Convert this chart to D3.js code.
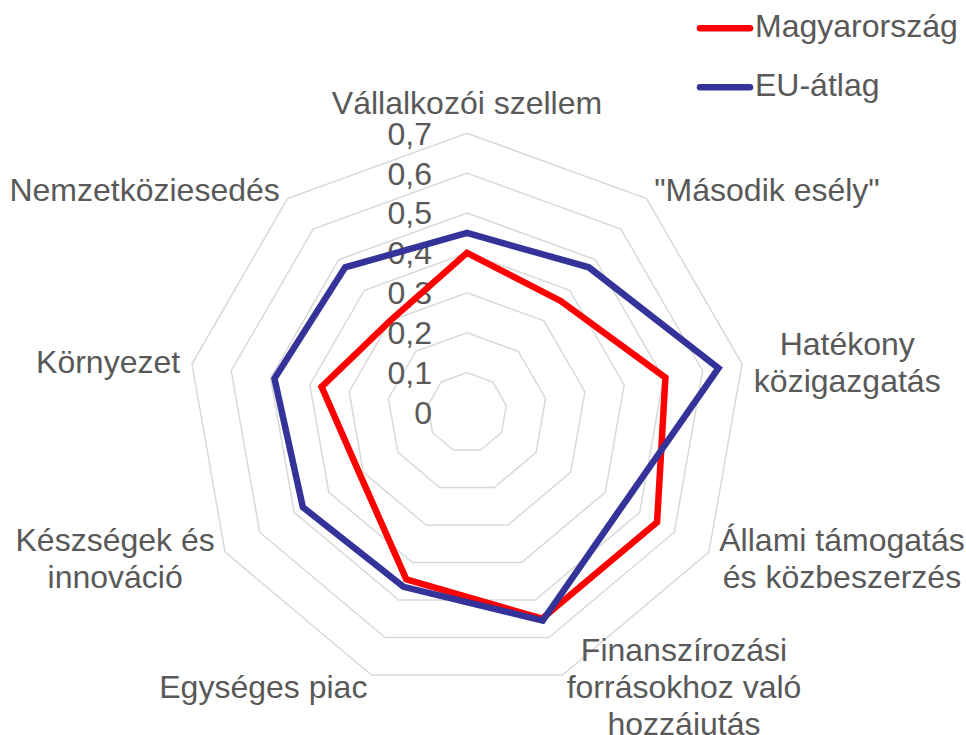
<!DOCTYPE html>
<html lang="hu">
<head>
<meta charset="UTF-8">
<title>Magyarország és az EU-átlag</title>
<script src="https://d3js.org/d3.v7.min.js"></script>
<style>
  body { margin: 0; background: #fff; }
  svg text { font-family: "Liberation Sans", Arial, sans-serif; fill: #595959; }
</style>
</head>
<body>
<svg width="966" height="735"></svg>
<script>
// categories clockwise from the top
const categories = [
  "Vállalkozói szellem",
  "\"Második esély\"",
  "Hatékony\nközigazgatás",
  "Állami támogatás\nés közbeszerzés",
  "Finanszírozási\nforrásokhoz való\nhozzájutás",
  "Egységes piac",
  "Készségek és\ninnováció",
  "Környezet",
  "Nemzetköziesedés"
];
const hungary = [0.40, 0.365, 0.505, 0.55, 0.55, 0.445, 0.31, 0.37, 0.30];
const euAverage = [0.45, 0.475, 0.64, 0.455, 0.555, 0.465, 0.475, 0.49, 0.475];
const tickValues = [0, 0.1, 0.2, 0.3, 0.4, 0.5, 0.6, 0.7];
const seriesNames = ["Magyarország", "EU-átlag"];

const colors = ["#ff0000", "#333399"];
const cx = 467, cy = 412.5, R = 279.3;
const fontSize = 32, tickSize = 32, lineH = 37, gap = 12;

const svg = d3.select("svg");
const hu = d3.formatLocale({decimal: ",", thousands: " ", grouping: [3], currency: ["", " Ft"]});
const fmt = hu.format("");

const r = d3.scaleLinear().domain([0, 0.7]).range([0, R]);
const angle = d3.scalePoint().domain(d3.range(categories.length + 1)).range([0, 2 * Math.PI]);

const g = svg.append("g").attr("transform", `translate(${cx},${cy})`);

// grid rings
const ring = d3.lineRadial()
  .angle((d, i) => angle(i))
  .radius(d => r(d))
  .curve(d3.curveLinearClosed);

g.selectAll(".ring")
  .data(tickValues.filter(t => t > 0))
  .enter()
  .append("path")
  .attr("class", "ring")
  .attr("d", t => ring(categories.map(() => t)))
  .attr("fill", "none")
  .attr("stroke", "#d9d9d9")
  .attr("stroke-width", 1.5);

// tick labels on the top axis
g.selectAll(".tick")
  .data(tickValues)
  .enter()
  .append("text")
  .attr("class", "tick")
  .attr("x", -35)
  .attr("y", d => -r(d) + 0.358 * tickSize)
  .attr("text-anchor", "end")
  .style("font-size", tickSize + "px")
  .text(d => fmt(d));

// series
const series = [hungary, euAverage];
g.selectAll(".series")
  .data(series)
  .enter()
  .append("path")
  .attr("class", "series")
  .attr("d", d => ring(d))
  .attr("fill", "none")
  .attr("stroke", (d, i) => colors[i])
  .attr("stroke-width", 6.5)
  .attr("stroke-linejoin", "miter");

// category labels
categories.forEach((label, i) => {
  const a = angle(i);
  const sx = Math.sin(a), sy = -Math.cos(a);
  const ax = (R + gap) * sx, ay = (R + gap) * sy;
  const lines = label.split("\n");
  const t = g.append("text").style("font-size", fontSize + "px").attr("text-anchor", "middle");
  const spans = lines.map(l => t.append("tspan").text(l));
  const w = d3.max(spans, s => s.node().getComputedTextLength());
  let mid;
  if (sx > 0.1) mid = ax + w / 2;
  else if (sx < -0.1) mid = ax - w / 2;
  else mid = ax;
  let y0;
  if (sy < -0.9) y0 = ay - 0.212 * fontSize - (lines.length - 1) * lineH;
  else y0 = ay - (lines.length - 1) * lineH / 2 + 0.358 * fontSize;
  spans.forEach((s, k) => s.attr("x", mid).attr("y", y0 + k * lineH));
});

// legend
const legend = svg.append("g").selectAll("g")
  .data(seriesNames)
  .enter()
  .append("g")
  .attr("transform", (d, i) => `translate(700,${28.3 + i * 59})`);

legend.append("line")
  .attr("x1", 0).attr("x2", 50)
  .attr("stroke", (d, i) => colors[i])
  .attr("stroke-width", 6.5)
  .attr("stroke-linecap", "round");

legend.append("text")
  .attr("x", 55)
  .attr("y", 8.5)
  .style("font-size", fontSize + "px")
  .text(d => d);
</script>
</body>
</html>
